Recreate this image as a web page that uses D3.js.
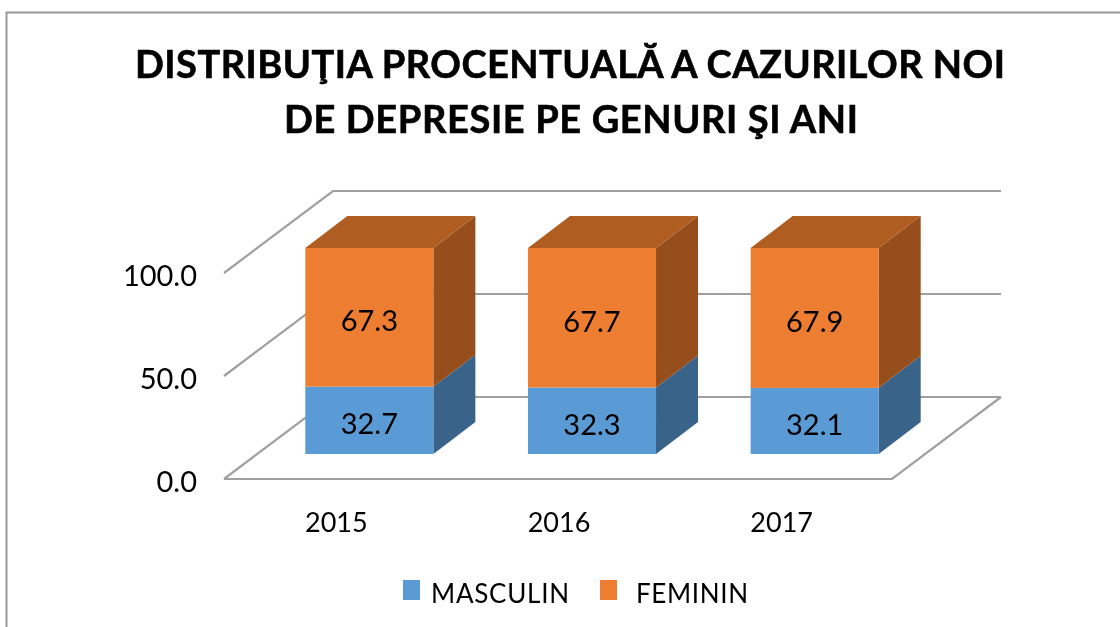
<!DOCTYPE html>
<html>
<head>
<meta charset="utf-8">
<script src="https://cdn.jsdelivr.net/npm/d3@7"></script>
<style>
    html, body { margin: 0; padding: 0; background: #fff; }
    svg { display: block; filter: blur(0.5px); }
    text { font-family: Lato, "Open Sans", sans-serif; fill: #000; }
</style>
</head>
<body>
<script>
var years = ["2015", "2016", "2017"];
var masculin = [32.7, 32.3, 32.1];
var feminin = [67.3, 67.7, 67.9];
var yTicks = [0, 50, 100];
var seriesNames = ["MASCULIN", "FEMININ"];
var titleLines = ["DISTRIBUŢIA PROCENTUALĂ A CAZURILOR NOI", "DE DEPRESIE PE GENURI ŞI ANI"];

function init() {
    var w = 1120;
    var h = 627;

    var svg = d3.select("body").append("svg").attr("width", w).attr("height", h);

    // outer chart frame, right and bottom edges are cut off in the picture
    svg.append("path")
        .attr("d", "M6.5," + h + "V12.5H" + w)
        .attr("fill", "none")
        .attr("stroke", "#999")
        .attr("stroke-width", 2);

    var title = svg.append("g").attr("text-anchor", "middle")
        .style("font-weight", 700).style("font-size", "38px")
        .style("stroke", "#000").style("stroke-width", 0.6);
    title.append("text").attr("x", 570).attr("y", 78).attr("textLength", 870).text(titleLines[0]);
    title.append("text").attr("x", 571).attr("y", 133).attr("textLength", 574).text(titleLines[1]);

    var xScale = d3.scaleBand().domain(years).range([224, 892]).paddingInner(0.425).paddingOuter(0.2125);
    var yScale = d3.scaleLinear().domain([0, 100]).range([479, 273]);

    // depth of the floor and depth of a bar
    var floorDx = 109, floorDy = -82;
    var barDx = 42, barDy = -32;
    // bars stand in the middle of the floor
    var barOffX = 34, barOffY = -25;

    var grid = svg.append("g").attr("fill", "none").attr("stroke", "#a0a0a0").attr("stroke-width", 2.2);
    yTicks.forEach(function (t) {
        var y = yScale(t);
        grid.append("path").attr("d", "M224," + y + "L" + (224 + floorDx) + "," + (y + floorDy) + "H" + (892 + floorDx));
    });
    grid.append("path").attr("d", "M224," + yScale(0) + "H892L" + (892 + floorDx) + "," + (yScale(0) + floorDy));

    var stackData = years.map(function (yr, i) {
        return { year: yr, MASCULIN: masculin[i], FEMININ: feminin[i] };
    });
    var series = d3.stack().keys(seriesNames)(stackData);

    var colors = {
        MASCULIN: { front: "#5b9bd5", side: "#3a6389", top: "#44749f" },
        FEMININ: { front: "#ed7d31", side: "#964e1c", top: "#b05d21" }
    };

    function poly(pts) {
        return pts.map(function (p) { return p.join(","); }).join(" ");
    }

    var layers = svg.selectAll("g.layer").data(series).enter().append("g").attr("class", "layer");

    layers.each(function (s) {
        var c = colors[s.key];
        var isTop = s.key == seriesNames[seriesNames.length - 1];
        var g = d3.select(this);
        s.forEach(function (d) {
            var x0 = xScale(d.data.year) + barOffX;
            var x1 = x0 + xScale.bandwidth();
            var yb = yScale(d[0]) + barOffY;
            var yt = yScale(d[1]) + barOffY;

            g.append("polygon")
                .attr("points", poly([[x1, yb], [x1 + barDx, yb + barDy], [x1 + barDx, yt + barDy], [x1, yt]]))
                .attr("fill", c.side);
            if (isTop) {
                g.append("polygon")
                    .attr("points", poly([[x0, yt], [x0 + barDx, yt + barDy], [x1 + barDx, yt + barDy], [x1, yt]]))
                    .attr("fill", c.top);
            }
            g.append("rect")
                .attr("x", x0).attr("y", yt)
                .attr("width", x1 - x0).attr("height", yb - yt)
                .attr("fill", c.front);
            g.append("text")
                .attr("x", (x0 + x1) / 2)
                .attr("y", (yb + yt) / 2 + 14)
                .attr("text-anchor", "middle")
                .style("font-size", "29px")
                .text((d[1] - d[0]).toFixed(1));
        });
    });

    // axis labels
    svg.append("g").selectAll("text").data(yTicks).enter().append("text")
        .attr("x", 197)
        .attr("y", function (d) { return yScale(d) + 13; })
        .attr("text-anchor", "end")
        .style("font-size", "29px")
        .text(function (d) { return d.toFixed(1); });

    svg.append("g").selectAll("text").data(years).enter().append("text")
        .attr("x", function (d) { return xScale(d) + xScale.bandwidth() / 2 + 1; })
        .attr("y", 532)
        .attr("text-anchor", "middle")
        .style("font-size", "27px")
        .text(function (d) { return d; });

    // legend
    var legendX = [403, 600];
    var legendTextX = [431, 636];
    var legendLen = [138, 112];
    var legend = svg.append("g");
    seriesNames.forEach(function (name, i) {
        legend.append("rect")
            .attr("x", legendX[i]).attr("y", 580)
            .attr("width", 17).attr("height", 20)
            .attr("fill", colors[name].front);
        legend.append("text")
            .attr("x", legendTextX[i]).attr("y", 603)
            .attr("textLength", legendLen[i])
            .style("font-size", "26px")
            .text(name);
    });
}

window.onload = init;
</script>
</body>
</html>
